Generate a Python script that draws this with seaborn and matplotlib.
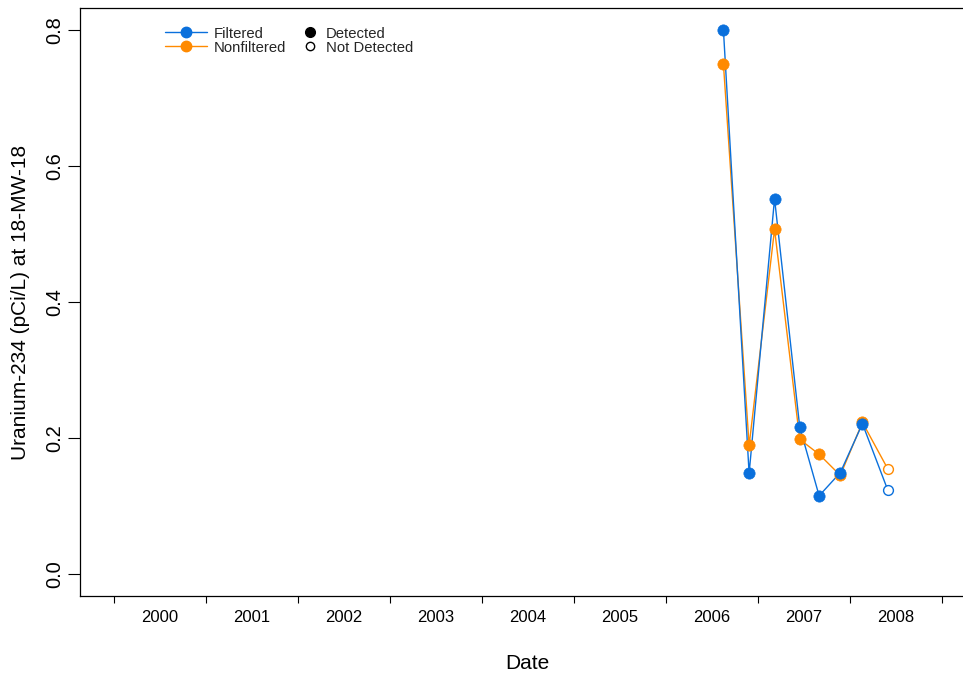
import pandas as pd
import matplotlib
matplotlib.use('Agg')
import matplotlib.pyplot as plt
import matplotlib.dates as mdates
from matplotlib.ticker import NullFormatter
from matplotlib.lines import Line2D
import seaborn as sns

# Sample data
sample_dates = ['2006-08-17', '2006-11-27', '2007-03-08', '2007-06-16',
                '2007-09-01', '2007-11-24', '2008-02-20', '2008-05-30']
filtered = [0.800, 0.148, 0.552, 0.216, 0.115, 0.149, 0.221, 0.124]
nonfiltered = [0.750, 0.189, 0.507, 0.198, 0.176, 0.145, 0.223, 0.155]
filtered_detected = [True, True, True, True, True, True, True, False]
nonfiltered_detected = [True, True, True, True, True, True, True, False]

year_ticks = list(range(2000, 2010))

blue = '#0A70DC'
orange = '#FF8A00'

df = pd.concat([
    pd.DataFrame({'Date': pd.to_datetime(sample_dates), 'Value': nonfiltered,
                  'Detected': nonfiltered_detected, 'Type': 'Nonfiltered'}),
    pd.DataFrame({'Date': pd.to_datetime(sample_dates), 'Value': filtered,
                  'Detected': filtered_detected, 'Type': 'Filtered'}),
])

sns.set_style('white')
plt.rcParams['font.family'] = ['Liberation Sans', 'DejaVu Sans']

fig = plt.figure(figsize=(9.63, 6.77), dpi=100)
ax = fig.add_axes([80 / 963, 81 / 677, (974 - 80) / 963, 588 / 677])

# nonfiltered first so filtered sits on top
for name, color in [('Nonfiltered', orange), ('Filtered', blue)]:
    sub = df[df['Type'] == name]
    sns.lineplot(data=sub, x='Date', y='Value', color=color, lw=1.0, ax=ax,
                 legend=False, zorder=2)
    sns.scatterplot(data=sub[sub['Detected']], x='Date', y='Value', color=color,
                    edgecolor=color, s=66, linewidth=0.5, ax=ax, zorder=3, legend=False)
    sns.scatterplot(data=sub[~sub['Detected']], x='Date', y='Value', color='white',
                    edgecolor=color, s=50, linewidth=1.0, ax=ax, zorder=3, legend=False)

# axes limits
ax.set_xlim(pd.Timestamp('1999-08-19'), pd.Timestamp('2009-05-08'))
ax.set_ylim(-0.0324, 0.8324)

# x axis: ticks at year starts, labels at mid-year
ax.set_xticks([pd.Timestamp(f'{y}-01-01') for y in year_ticks])
ax.xaxis.set_major_formatter(NullFormatter())
ax.xaxis.set_minor_locator(mdates.MonthLocator(bymonth=7, bymonthday=1))
ax.xaxis.set_minor_formatter(mdates.DateFormatter('%Y'))
ax.tick_params(axis='x', which='major', bottom=True, length=5, width=0.8,
               color='black', direction='out')
ax.tick_params(axis='x', which='minor', bottom=True, length=0, pad=10,
               labelsize=12, labelcolor='black')

# y axis
ax.set_yticks([0.0, 0.2, 0.4, 0.6, 0.8])
ax.set_yticklabels(['0.0', '0.2', '0.4', '0.6', '0.8'])
ax.tick_params(axis='y', left=True, length=8.5, width=0.8, color='black',
               direction='out', pad=3.0, labelsize=14.4, labelcolor='black')
for lbl in ax.get_yticklabels():
    lbl.set_rotation(90)
    lbl.set_va('center')

ax.set_xlabel('Date', fontsize=15, color='black')
ax.set_ylabel('Uranium-234 (pCi/L) at 18-MW-18', fontsize=15, color='black')
ax.xaxis.set_label_coords(0.5, -0.098)
ax.yaxis.set_label_coords(-0.056, 0.5)

for side in ['top', 'left', 'bottom']:
    ax.spines[side].set_color('black')
    ax.spines[side].set_linewidth(0.9)
ax.spines['right'].set_visible(False)

# legends
series_handles = [
    Line2D([], [], color=blue, lw=1.0, marker='o', markersize=7.5),
    Line2D([], [], color=orange, lw=1.0, marker='o', markersize=7.5),
]
leg1 = ax.legend(series_handles, ['Filtered', 'Nonfiltered'], loc='upper left',
                 bbox_to_anchor=(165 / 963, 1 - 26.5 / 677), bbox_transform=fig.transFigure,
                 frameon=False, fontsize=10.7, handlelength=2.8, handletextpad=0.5,
                 labelspacing=0.0, borderpad=0, borderaxespad=0)
ax.add_artist(leg1)

detect_handles = [
    Line2D([], [], color='black', lw=0, marker='o', markersize=7),
    Line2D([], [], color='black', lw=0, marker='o', markersize=6,
           markerfacecolor='white', markeredgewidth=1.0),
]
ax.legend(detect_handles, ['Detected', 'Not Detected'], loc='upper left',
          bbox_to_anchor=(303 / 963, 1 - 26.5 / 677), bbox_transform=fig.transFigure,
          frameon=False, fontsize=10.7, handlelength=1.0, handletextpad=0.55,
          labelspacing=0.0, borderpad=0, borderaxespad=0)

fig.savefig('out.png', dpi=100)
